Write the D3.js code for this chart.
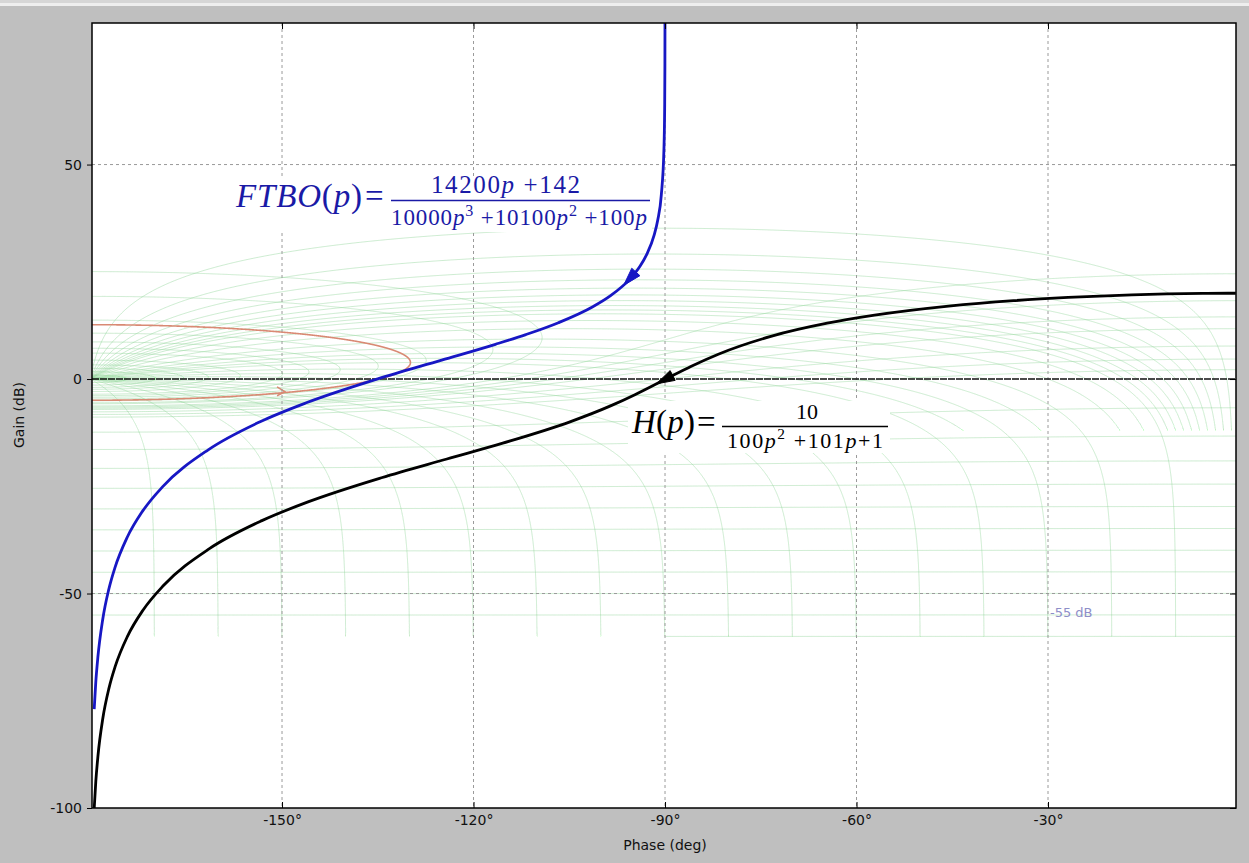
<!DOCTYPE html>
<html>
<head>
<meta charset="utf-8">
<style>
  body { margin: 0; background: #bfbfbf; }
  svg { display: block; }
  .tick text { font-family: "DejaVu Sans", sans-serif; font-size: 14px; fill: #111; }
  .axis-title { font-family: "DejaVu Sans", sans-serif; font-size: 14px; fill: #111; }
  .eq { font-family: "Liberation Serif", "Times New Roman", serif; }
</style>
</head>
<body>
<svg id="chart" width="1249" height="863"></svg>
<script src="https://d3js.org/d3.v7.min.js"></script>
<script>
// open loop FTBO(p): phase (deg) / gain (dB)
var ftboPhase = [-90.006, -90.017, -90.057, -90.172, -90.573, -91.146, -91.718, -92.862, -94.004, -95.711,
  -98.531, -101.31, -106.699, -111.801, -116.565, -124.992, -135.0, -146.31, -153.435, -161.565,
  -168.69, -171.87, -174.289, -176.186, -177.138, -178.091, -178.854, -179.182, -179.427];
var ftboGain = [83.05, 73.50, 63.05, 53.50, 43.05, 37.02, 33.50, 29.06, 26.12, 23.00,
  19.43, 16.85, 13.13, 10.36, 8.10, 4.41, 0.04, -5.60, -9.96, -16.50,
  -25.08, -30.85, -37.00, -44.02, -49.01, -56.04, -64.91, -70.76, -76.95];

// H(p)
var hPhase = [-0.579, -1.736, -5.768, -11.425, -16.871, -26.851, -35.393, -45.573, -57.169, -64.581,
  -73.283, -81.552, -85.874, -90.0, -94.717, -98.448, -104.79, -115.419, -124.173, -134.427,
  -145.928, -153.149, -161.374, -168.575, -171.788, -174.232, -176.148, -177.109, -178.072, -178.843,
  -179.174, -179.421];
var hGain = [20.00, 20.00, 19.96, 19.83, 19.63, 19.03, 18.27, 16.99, 14.88, 13.01,
  10.00, 5.84, 2.99, -0.09, -3.64, -6.20, -9.92, -14.95, -18.64, -23.01,
  -28.64, -33.01, -39.54, -48.13, -53.89, -60.04, -67.06, -72.05, -79.09, -87.96,
  -93.81, -100.0];

// direction arrows on the curves: [tail phase, tail gain, tip phase, tip gain]
var ftboArrow = [-94.574, 24.96, -96.277, 22.17];
var hArrow = [-88.803, 0.83, -91.083, -0.92];

// Nichols grid: closed loop magnitudes (dB) and phases (deg)
var mLevels = [-55, -50, -45, -40, -35, -30, -25, -20, -15, -10, -5, -4, -3, -2, -1.5, -1, -0.5,
  0.5, 1, 2, 3, 4, 5, 6, 8, 10, 12, 15, 20];
var mLevelsRight = [-60];          // only drawn on the right half
var nLevelsMain = [-10, -20, -30, -40, -50, -60, -70, -80, -90, -100, -110, -120, -130, -140, -150, -160, -170];
var nLevelsFine = [-1, -2, -3, -4, -5, -6, -7, -8, -9, -12, -15, -25, -35];
var mHighlight = 2.3;

var xTicks = [-150, -120, -90, -60, -30];
var yTicks = [50, 0, -50, -100];

var svg = d3.select("#chart");
var pL = 92, pR = 1236, pT = 23, pB = 808;

var x = d3.scaleLinear().domain([-179.77, -0.55]).range([pL, pR]);
var y = d3.scaleLinear().domain([-100, 83]).range([pB, pT]);

// window strip at the top
svg.append("rect").attr("x", 0).attr("y", 0).attr("width", 1249).attr("height", 3).attr("fill", "#d6d6d6");
svg.append("rect").attr("x", 0).attr("y", 3).attr("width", 1249).attr("height", 3).attr("fill", "#eeeeee");

svg.append("defs").append("clipPath").attr("id", "clip")
  .append("rect").attr("x", pL).attr("y", pT).attr("width", pR - pL).attr("height", pB - pT);

svg.append("rect").attr("x", pL).attr("y", pT).attr("width", pR - pL).attr("height", pB - pT)
  .attr("fill", "#fff");

var plot = svg.append("g").attr("clip-path", "url(#clip)");
var line = d3.line().x(d => x(d[0])).y(d => y(d[1]));

function mContour(db) {
  var M = Math.pow(10, db / 20), k = M * M - 1;
  var c = -M * M / k, R = M / Math.abs(k);
  var pts = [];
  for (var i = 0; i <= 2000; i++) {
    var th = Math.PI + Math.PI * i / 2000;
    var re = c + R * Math.cos(th), im = R * Math.sin(th);
    var ph = Math.atan2(im, re) * 180 / Math.PI;
    if (ph > 0) ph -= 360;
    pts.push([ph, 20 * Math.log10(Math.hypot(re, im))]);
  }
  return pts;
}

function nContour(deg, gmin) {
  var a = -deg * Math.PI / 180;
  var psiEnd = a + Math.asin(Math.sin(a) * Math.pow(10, gmin / 20));
  var pts = [];
  var n = 2500;
  for (var i = 0; i <= n; i++) {
    var s = i / n;
    var psi = Math.PI - (Math.PI - psiEnd) * (1 - Math.pow(1 - s, 3));
    var g = 20 * Math.log10(Math.sin(psi - a) / Math.sin(a));
    pts.push([-psi * 180 / Math.PI, g]);
  }
  return pts;
}

var grid = plot.append("g")
  .attr("fill", "none")
  .attr("stroke", "rgb(135,210,145)")
  .attr("stroke-opacity", 0.42)
  .attr("stroke-width", 1);

grid.selectAll("path.m").data(mLevels).enter().append("path")
  .attr("class", "m").attr("d", d => line(mContour(d)));
grid.selectAll("path.mr").data(mLevelsRight).enter().append("path")
  .attr("class", "mr").attr("d", d => line(mContour(d).filter(p => p[0] >= -90)));
grid.selectAll("path.n").data(nLevelsMain).enter().append("path")
  .attr("class", "n").attr("d", d => line(nContour(d, -60)));
grid.selectAll("path.nf").data(nLevelsFine).enter().append("path")
  .attr("class", "nf").attr("d", d => line(nContour(d, -12)));

// 2.3 dB contour
plot.append("path").attr("d", line(mContour(mHighlight)))
  .attr("fill", "none").attr("stroke", "#d98a74").attr("stroke-width", 1.6);
// small marker on it
var mk = [x(-150), y(-3.2)];
plot.append("path")
  .attr("d", "M" + (mk[0] - 5) + "," + (mk[1] - 6) + "L" + (mk[0] + 3) + "," + (mk[1] - 1) + "L" + (mk[0] - 5) + "," + (mk[1] + 3))
  .attr("fill", "none").attr("stroke", "#d98a74").attr("stroke-width", 1.5);

// dashed grid
var gl = plot.append("g").attr("stroke", "#9a9a9a").attr("stroke-dasharray", "3,3").attr("stroke-width", 1);
gl.selectAll("line.v").data(xTicks).enter().append("line")
  .attr("x1", d => x(d)).attr("x2", d => x(d)).attr("y1", pT).attr("y2", pB);
gl.selectAll("line.h").data(yTicks.filter(d => d !== 0 && d !== -100)).enter().append("line")
  .attr("x1", pL).attr("x2", pR).attr("y1", d => y(d)).attr("y2", d => y(d));

// 0 dB line
plot.append("line").attr("x1", pL).attr("x2", pR).attr("y1", y(0)).attr("y2", y(0))
  .attr("stroke", "#111").attr("stroke-width", 1.4).attr("stroke-dasharray", "7,1");

// curves
var curve = d3.line().x(d => x(d[0])).y(d => y(d[1])).curve(d3.curveMonotoneX);
var ftboPts = ftboPhase.map((p, i) => [p, ftboGain[i]]).reverse();
var hPts = hPhase.map((p, i) => [p, hGain[i]]).reverse();

var blue = "#1717c4";
plot.append("path").attr("d", curve(ftboPts)).attr("fill", "none")
  .attr("stroke", blue).attr("stroke-width", 2.8);
plot.append("path").attr("d", curve(hPts)).attr("fill", "none")
  .attr("stroke", "#000").attr("stroke-width", 2.8);

function arrow(a, col) {
  var x0 = x(a[0]), y0 = y(a[1]), x1 = x(a[2]), y1 = y(a[3]);
  var dx = x1 - x0, dy = y1 - y0, L = Math.hypot(dx, dy);
  var ux = dx / L, uy = dy / L, w = 5.5;
  var p = [[x1 + ux * 2, y1 + uy * 2], [x0 - uy * w, y0 + ux * w], [x0 + uy * w, y0 - ux * w]];
  plot.append("path").attr("d", "M" + p.join("L") + "Z").attr("fill", col).attr("stroke", col);
}
arrow(ftboArrow, blue);
arrow(hArrow, "#000");

// grid label
plot.append("text").attr("x", 1050).attr("y", 617)
  .attr("font-family", "DejaVu Sans, sans-serif").attr("font-size", 13)
  .attr("fill", "#8e8ec8").text("-55 dB");

// equations
var eqBlue = "#1a1aa6";
svg.append("rect").attr("x", 232).attr("y", 177).attr("width", 420).attr("height", 55).attr("fill", "#fff");
svg.append("rect").attr("x", 628).attr("y", 401).attr("width", 262).attr("height", 52).attr("fill", "#fff");

function lhs(xp, yb, len, name, col) {
  var t = svg.append("text").attr("class", "eq").attr("x", xp).attr("y", yb)
    .attr("font-size", 33).attr("fill", col)
    .attr("textLength", len).attr("lengthAdjust", "spacing");
  t.append("tspan").attr("font-style", "italic").text(name);
  t.append("tspan").text("(");
  t.append("tspan").attr("font-style", "italic").text("p");
  t.append("tspan").text(")");
}
function part(xp, yb, len, size, col, bits) {
  var t = svg.append("text").attr("class", "eq").attr("x", xp).attr("y", yb)
    .attr("font-size", size).attr("fill", col);
  if (len) t.attr("textLength", len).attr("lengthAdjust", "spacing");
  bits.forEach(function(b) {
    var s = t.append("tspan").text(b[0]);
    if (b[1] === "i") s.attr("font-style", "italic");
    if (b[1] === "s") s.attr("font-size", size * 0.7).attr("dy", -size * 0.4);
    if (b[2]) s.attr("dy", size * 0.4);
  });
}

// FTBO(p) = (14200p + 142) / (10000p^3 + 10100p^2 + 100p)
lhs(236, 207, 126, "FTBO", eqBlue);
svg.append("text").attr("class", "eq").attr("x", 365).attr("y", 207).attr("font-size", 33)
  .attr("fill", eqBlue).text("=");
svg.append("line").attr("x1", 391).attr("x2", 650).attr("y1", 200.5).attr("y2", 200.5)
  .attr("stroke", eqBlue).attr("stroke-width", 1.3);
part(431, 193, 149, 25, eqBlue, [["14200"], ["p", "i"], ["  +142"]]);
part(391, 225, 256, 23, eqBlue, [["10000"], ["p", "i"], ["3", "s"], [" +10100", "", 1], ["p", "i"], ["2", "s"],
  [" +100", "", 1], ["p", "i"]]);

// H(p) = 10 / (100p^2 + 101p + 1)
lhs(632, 433, 63, "H", "#000");
svg.append("text").attr("class", "eq").attr("x", 697).attr("y", 433).attr("font-size", 33)
  .attr("fill", "#000").text("=");
svg.append("line").attr("x1", 722).attr("x2", 888).attr("y1", 426.5).attr("y2", 426.5)
  .attr("stroke", "#000").attr("stroke-width", 1.3);
part(796, 419, 0, 22, "#000", [["10"]]);
part(727, 448, 156, 22, "#000", [["100"], ["p", "i"], ["2", "s"], [" +101", "", 1], ["p", "i"], ["+1"]]);

// frame and axes
svg.append("rect").attr("x", pL).attr("y", pT).attr("width", pR - pL).attr("height", pB - pT)
  .attr("fill", "none").attr("stroke", "#000").attr("stroke-width", 1.5);

var xAxis = svg.append("g").attr("transform", "translate(0," + pB + ")")
  .call(d3.axisBottom(x).tickValues(xTicks).tickSize(-6).tickPadding(7).tickFormat(d => d + "°"));
var xTop = svg.append("g").attr("transform", "translate(0," + pT + ")")
  .call(d3.axisTop(x).tickValues(xTicks).tickSize(-6).tickFormat(""));
var yAxis = svg.append("g").attr("transform", "translate(" + pL + ",0)")
  .call(d3.axisLeft(y).tickValues(yTicks).tickSize(5).tickPadding(4).tickFormat(d => d));
var yRight = svg.append("g").attr("transform", "translate(" + pR + ",0)")
  .call(d3.axisRight(y).tickValues(yTicks).tickSize(-6).tickFormat(""));
[xAxis, xTop, yAxis, yRight].forEach(g => {
  g.select(".domain").remove();
  g.selectAll(".tick line").attr("stroke", "#000");
});
yAxis.selectAll(".tick text").attr("dx", "-1");

svg.append("text").attr("class", "axis-title").attr("text-anchor", "middle")
  .attr("x", 665).attr("y", 850).text("Phase (deg)");
svg.append("text").attr("class", "axis-title").attr("text-anchor", "middle")
  .attr("transform", "translate(24,415) rotate(-90)").text("Gain (dB)");
</script>
</body>
</html>
